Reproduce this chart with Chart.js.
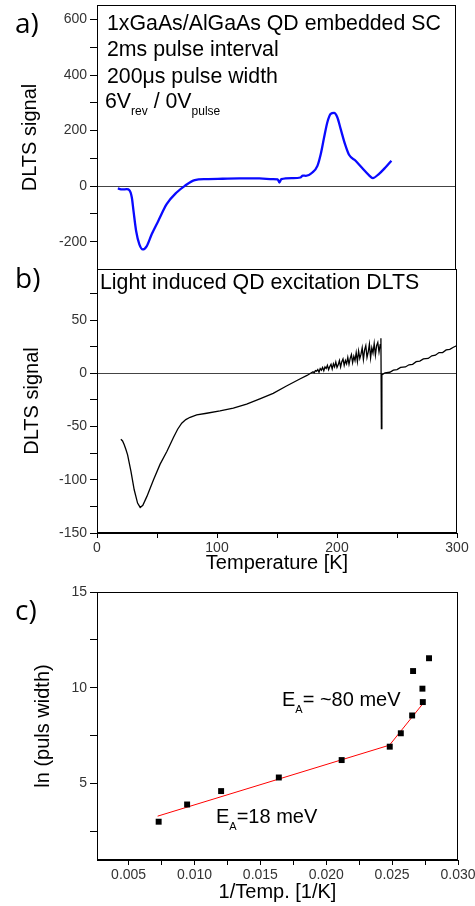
<!DOCTYPE html>
<html>
<head>
<meta charset="utf-8">
<script src="https://cdn.jsdelivr.net/npm/chart.js@4.4.0/dist/chart.umd.min.js"></script>
<style>
  body { margin: 0; background: #fff; width: 475px; height: 906px; position: relative; overflow: hidden;
         font-family: 'Liberation Sans', Arial, sans-serif; }
  canvas { position: absolute; left: 0; }
  .t { position: absolute; white-space: nowrap; font-size: 20px; line-height: 20px; color: #000; }
  .big { font-size: 21.3px; line-height: 21.3px; }
  .lbl { position: absolute; font-family: 'Open Sans', sans-serif; font-size: 28px; line-height: 28px; color: #000; }
  .sub { font-size: 12px; position: relative; top: 7px; }
  .subA { font-size: 11px; position: relative; top: 7px; }
</style>
</head>
<body>
<canvas id="chartA" width="475" height="275" style="top:0px"></canvas>
<canvas id="chartB" width="475" height="321" style="top:269px"></canvas>
<canvas id="chartC" width="475" height="331" style="top:575px"></canvas>

<div class="lbl" style="left:15px;top:8px">a)</div>
<div class="lbl" style="left:15px;top:263px">b)</div>
<div class="lbl" style="left:15px;top:595px">c)</div>

<div class="t big" style="left:107px;top:13px">1xGaAs/AlGaAs QD embedded SC</div>
<div class="t big" style="left:107px;top:39px">2ms pulse interval</div>
<div class="t big" style="left:107px;top:66px">200μs pulse width</div>
<div class="t big" style="left:105px;top:91px">6V<span class="sub">rev</span> / 0V<span class="sub">pulse</span></div>

<div class="t big" style="left:100px;top:272px">Light induced QD excitation DLTS</div>

<div class="t" style="left:282px;top:689px">E<span class="subA">A</span>= ~80 meV</div>
<div class="t" style="left:216px;top:806px">E<span class="subA">A</span>=18 meV</div>

<script>
// a) DLTS, electrical pulse
const tempA = [17.4, 21, 24.9, 27.1, 29.1, 30.5, 32.7, 35.4, 38.2, 41.6, 45.7, 51.2, 58.2, 66.5, 73.4, 81.7,
  91.4, 105, 119, 135.7, 146.8, 151, 152.4, 154, 163.4, 170, 172, 174.6, 180, 184.2, 187, 189.8, 192.5,
  195.3, 198.1, 200.8, 203.6, 207.2, 210.6, 216.1, 221.6, 227.2, 230.5, 235.5, 241, 246]
const sigA = [-8.5, -12, -11, -14.6, -41, -89, -161.5, -209.6, -227.7, -215.7, -173.5, -125.4, -65, -23, 1, 21.7,
  25.3, 26.5, 27.5, 27.5, 25.3, 24, 13, 25, 28.9, 31, 38, 37.2, 49, 73, 115.6, 175.6, 230,
  260, 263.6, 248, 206, 151.8, 113, 91.4, 65, 39.7, 28.9, 43.4, 67, 91.4]

// b) light induced DLTS
const tempB = [19.9, 21.3, 22.7, 24.1, 25.5, 28.3, 31, 33.8, 36, 38.2, 41.6, 44.3, 47.1, 52.6, 58.2, 63.7, 67.2, 70.6, 74, 77.6, 83.1,
  91.4, 102.5, 113.6, 124.7, 135.7, 146.8, 157.9, 169, 175,
  180, 181, 182, 183, 184, 185, 186, 187, 188, 189, 190, 191, 192, 193, 194, 195, 196, 197, 198, 199,
  200, 201, 202, 203, 204, 205, 206, 207, 208, 209, 210, 211, 212, 213, 214, 215, 216, 217, 218, 219,
  220, 221, 222, 223, 224, 225, 226, 227, 228, 229, 230, 231, 232, 233, 234, 235, 236,
  236.6, 237, 237.4, 240, 244, 247, 250, 253, 257, 260, 263, 266, 269, 272, 276, 279, 282, 285, 288, 291, 294, 297, 300]
const sigB = [-61.9, -63.5, -67.2, -71.5, -76.6, -92.2, -109.4, -121.9, -126, -124, -115.6, -108, -100, -85.3, -73.4, -60.3, -52.5, -46.9, -43.5, -41.3, -39,
  -37.5, -35.3, -32.8, -29, -24, -18.8, -11.9, -5.3, -2,
  1.5, 0.5, 2.5, 2, 3.5, 1, 4.5, 3, 5.5, 2.5, 6, 4.5, 7.5, 3.5, 6.5, 8.5, 4, 9, 6, 10.5,
  5.5, 8, 12, 6, 11, 13.5, 7.5, 12, 9, 15, 8.5, 14, 17.5, 10, 16, 12, 19.5, 11, 21, 14,
  18, 24, 13, 22, 26, 15, 20, 27.5, 14.5, 24, 19, 28, 17, 26, 29, 20, 27,
  33, -52, -1.5, 0.5, 1, 3, 3.5, 5.5, 6, 8, 8.5, 11, 11.5, 13.5, 14, 16.5, 17, 19.5, 19.5, 22, 22.5, 24.5, 26]

// c) Arrhenius plot
const invT = [0.00728, 0.00944, 0.01202, 0.0164, 0.02117, 0.02482, 0.02566, 0.02652, 0.02659, 0.0273, 0.02733, 0.0278]
const lnWidth = [3.0, 3.9, 4.6, 5.31, 6.22, 6.92, 7.62, 8.55, 10.87, 9.95, 9.25, 11.54]
const fitInvT = [0.0072, 0.0248, 0.02735]
const fitLn = [3.29, 7.0, 9.18]

const yTicksA = [-200, -100, 0, 100, 200, 300, 400, 500, 600]
const yTicksB = [-150, -125, -100, -75, -50, -25, 0, 25, 50, 75]
const xTicksB = [0, 50, 100, 150, 200, 250, 300]
const yTicksC = [2.5, 5, 7.5, 10, 12.5, 15]
const xTicksC = [0.005, 0.0075, 0.01, 0.0125, 0.015, 0.0175, 0.02, 0.0225, 0.025, 0.0275, 0.03]

const fam = "'Liberation Sans', Arial, sans-serif"
const tickFont = { family: fam, size: 14 }
const titleFont = { family: fam, size: 20 }
const pts = (xs, ys) => xs.map((x, i) => ({ x: x, y: ys[i] }))

// black box round the plot area
const frame = {
  id: 'frame',
  afterDatasetsDraw(chart) {
    const { ctx, chartArea: a } = chart
    ctx.save()
    ctx.strokeStyle = '#000'
    ctx.lineWidth = 1
    ctx.strokeRect(Math.round(a.left) + 0.5, Math.round(a.top) + 0.5,
      Math.round(a.right - a.left) - 1, Math.round(a.bottom - a.top) - 1)
    ctx.restore()
  }
}

function yAxis(min, max, tickVals, label, title, titlePad) {
  return {
    type: 'linear', min: min, max: max,
    afterBuildTicks: s => { s.ticks = tickVals.map(v => ({ value: v })) },
    afterFit: s => { s.width = 97; s.paddingTop = 0; s.paddingBottom = 0 },
    ticks: { autoSkip: false, padding: 3, color: '#333', font: tickFont, callback: label },
    grid: {
      drawOnChartArea: true, tickLength: 7, tickColor: '#000',
      color: ctx => (ctx.tick && ctx.tick.value === 0) ? '#444' : 'rgba(0,0,0,0)'
    },
    border: { color: '#000', width: 1 },
    title: { display: true, text: title, color: '#000', font: titleFont, padding: { top: titlePad, bottom: 0 } }
  }
}

function xAxis(min, max, tickVals, label, title, height, titlePad) {
  return {
    type: 'linear', min: min, max: max,
    afterBuildTicks: s => { s.ticks = tickVals.map(v => ({ value: v })) },
    afterFit: s => { s.height = height; s.paddingLeft = 0; s.paddingRight = 0 },
    ticks: { autoSkip: false, maxRotation: 0, padding: 2, color: '#333', font: tickFont, callback: label },
    grid: { drawOnChartArea: false, tickLength: 5, tickColor: '#000', color: '#000' },
    border: { color: '#000', width: 1 },
    title: { display: true, text: title, color: '#000', font: titleFont, padding: { top: 0, bottom: titlePad } }
  }
}

const common = {
  responsive: false,
  animation: false,
  devicePixelRatio: 1,
  plugins: { legend: { display: false }, tooltip: { enabled: false } }
}

// a)
new Chart(document.getElementById('chartA'), {
  type: 'scatter',
  data: {
    datasets: [{
      data: pts(tempA, sigA), showLine: true, borderColor: '#0a0aff', borderWidth: 2.3,
      pointRadius: 0, cubicInterpolationMode: 'monotone'
    }]
  },
  options: Object.assign({}, common, {
    layout: { padding: { left: 0, top: 5, right: 19, bottom: 5 } },
    scales: {
      x: { type: 'linear', min: 0, max: 300, display: false },
      y: yAxis(-302, 652, yTicksA, v => v % 200 === 0 ? String(v) : '', 'DLTS signal', 18)
    }
  }),
  plugins: [frame]
})

// b)
new Chart(document.getElementById('chartB'), {
  type: 'scatter',
  data: {
    datasets: [{
      data: pts(tempB, sigB), showLine: true, borderColor: '#000', borderWidth: 1.3,
      pointRadius: 0, tension: 0
    }]
  },
  options: Object.assign({}, common, {
    layout: { padding: { left: 0, top: 0, right: 18, bottom: 0 } },
    scales: {
      x: xAxis(0, 300, xTicksB, v => v % 100 === 0 ? String(v) : '', 'Temperature [K]', 57, 15),
      y: yAxis(-150, 98, yTicksB, v => v % 50 === 0 ? String(v) : '', 'DLTS signal', 20)
    }
  }),
  plugins: [frame]
})

// c)
new Chart(document.getElementById('chartC'), {
  type: 'scatter',
  data: {
    datasets: [
      {
        data: pts(invT, lnWidth), pointStyle: 'rect', pointRadius: 4.2,
        backgroundColor: '#000', borderColor: '#000', borderWidth: 0
      },
      {
        data: pts(fitInvT, fitLn), showLine: true, borderColor: '#ff0000', borderWidth: 1,
        pointRadius: 0
      }
    ]
  },
  options: Object.assign({}, common, {
    layout: { padding: { left: 0, top: 17, right: 17, bottom: 0 } },
    scales: {
      x: xAxis(0.0026, 0.030, xTicksC,
        v => Math.abs(v * 200 - Math.round(v * 200)) < 1e-6 ? v.toFixed(3) : '',
        '1/Temp. [1/K]', 46, 2),
      y: yAxis(1, 15, yTicksC, v => v % 5 === 0 ? String(v) : '', 'ln (puls width)', 31)
    }
  }),
  plugins: [frame]
})
</script>
</body>
</html>
